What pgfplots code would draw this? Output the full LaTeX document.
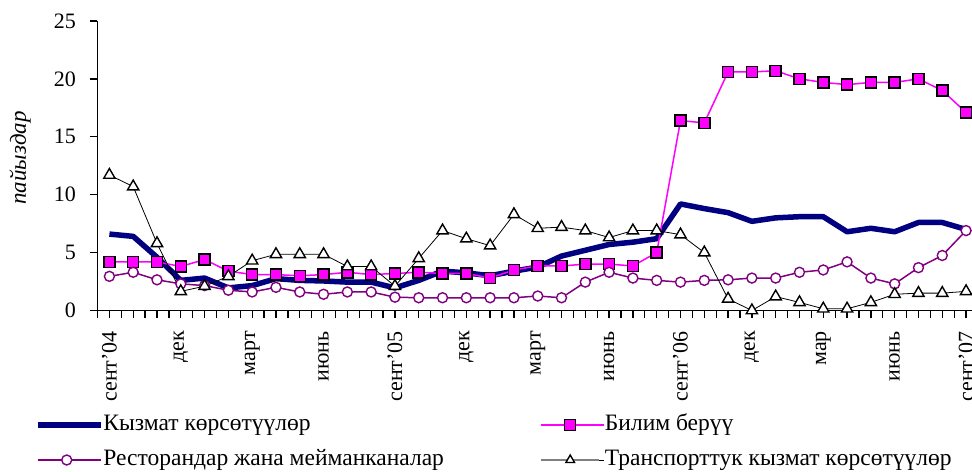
\documentclass[border=0pt]{standalone}
\usepackage{fontspec}
\setmainfont{Liberation Serif}
\usepackage{pgfplots}
\pgfplotsset{compat=1.18}
\definecolor{navyK}{HTML}{000080}
\definecolor{magB}{HTML}{FF00FF}
\definecolor{purR}{HTML}{800080}
\definecolor{grayT}{HTML}{808080}

\begin{document}
\fontsize{22pt}{26pt}\selectfont
\begin{tikzpicture}
\begin{axis}[
    scale only axis,
    width=874.5pt, height=289.5pt,
    xmin=-0.5, xmax=36.25,
    ymin=0, ymax=25,
    clip=false,
    axis x line=bottom, axis y line=left,
    axis line style={-, line width=1.4pt},
    tick align=outside,
    major tick length=7.5pt, minor tick length=7.5pt,
    tick style={line width=1.3pt, black},
    ytick={0,5,...,25},
    xtick={0,3,...,36},
    xticklabels={сент'04,дек,март,июнь,сент'05,дек,март,июнь,сент'06,дек,мар,июнь,сент'07},
    minor xtick={-0.5,0,...,36},
    /pgf/number format/assume math mode=true,
    tick label style={font=\fontsize{22pt}{26pt}\selectfont},
    xticklabel style={rotate=90, anchor=east, inner sep=0pt},
    xticklabel shift=13pt,
    yticklabel style={inner sep=0pt},
    yticklabel shift=14pt,
    ylabel={\itshape пайыздар},
    ylabel style={at={(axis description cs:-0.0886,0.527)}, anchor=center, font=\fontsize{23pt}{27pt}\selectfont},
    legend columns=2,
    legend cell align=left,
    legend style={draw=none, fill=none, inner sep=0pt, outer sep=0pt,
        at={(axis description cs:-0.0715,-0.456)}, anchor=west,
        row sep=14pt,
        nodes={inner sep=0pt, text height=16pt, text depth=5pt,
               font=\fontsize{23.5pt}{27pt}\selectfont}},
    legend image code/.code={
        \path (0pt,0pt) -- (63pt,0pt);
        \draw[mark repeat=2, mark phase=2, #1] plot coordinates {(0pt,0pt) (29pt,0pt) (58pt,0pt)};
    },
]

% Кызмат көрсөтүүлөр
\addplot[color=navyK, line width=5.5pt, line join=round, no markers] coordinates {
    (0,6.6) (1,6.4) (2,4.6) (3,2.6) (4,2.8) (5,1.95) (6,2.15) (7,2.75) (8,2.6)
    (9,2.55) (10,2.45) (11,2.45) (12,1.95) (13,2.6) (14,3.4) (15,3.25) (16,3.0)
    (17,3.4) (18,3.75) (19,4.7) (20,5.2) (21,5.7) (22,5.9) (23,6.2) (24,9.2)
    (25,8.8) (26,8.45) (27,7.7) (28,8.0) (29,8.1) (30,8.1) (31,6.8) (32,7.1)
    (33,6.8) (34,7.6) (35,7.6) (36,7.0)
};
\addlegendentry{\makebox[437pt][l]{Кызмат көрсөтүүлөр}}

% Билим берүү
\addplot[color=magB, line width=1.5pt, mark=square*, mark size=5.5pt,
    mark options={fill=magB, draw=black, line width=1.5pt}] coordinates {
    (0,4.2) (1,4.2) (2,4.2) (3,3.8) (4,4.4) (5,3.4) (6,3.1) (7,3.1) (8,3.0)
    (9,3.1) (10,3.3) (11,3.1) (12,3.2) (13,3.3) (14,3.2) (15,3.2) (16,2.8)
    (17,3.5) (18,3.85) (19,3.85) (20,4.0) (21,4.0) (22,3.85) (23,5.0) (24,16.4)
    (25,16.2) (26,20.6) (27,20.6) (28,20.7) (29,20.0) (30,19.7) (31,19.5) (32,19.7)
    (33,19.7) (34,20.0) (35,19.0) (36,17.1)
};
\addlegendentry{Билим берүү}

% Ресторандар жана мейманканалар
\addplot[color=purR, line width=1.5pt, mark=*, mark size=5pt,
    mark options={fill=white, draw=purR, line width=1.4pt}] coordinates {
    (0,2.95) (1,3.3) (2,2.65) (3,2.3) (4,2.15) (5,1.75) (6,1.6) (7,2.0) (8,1.6)
    (9,1.4) (10,1.6) (11,1.6) (12,1.15) (13,1.1) (14,1.1) (15,1.1) (16,1.1)
    (17,1.1) (18,1.25) (19,1.1) (20,2.45) (21,3.3) (22,2.8) (23,2.6) (24,2.45)
    (25,2.6) (26,2.65) (27,2.8) (28,2.8) (29,3.3) (30,3.5) (31,4.2) (32,2.8)
    (33,2.3) (34,3.7) (35,4.75) (36,6.9)
};
\addlegendentry{\makebox[437pt][l]{Ресторандар жана мейманканалар}}

% Транспорттук кызмат көрсөтүүлөр
\addplot[color=black, line width=0.8pt, mark=triangle*, mark size=6.5pt,
    mark options={fill=white, draw=black, line width=1.4pt},
    legend image code/.code={
        \path (0pt,0pt) -- (63pt,0pt);
        \draw[grayT, line width=1.5pt] (0pt,0pt) -- (58pt,0pt);
        \draw[black, fill=white, line width=1.4pt] plot[mark=triangle*, mark size=5pt] coordinates {(29pt,0pt)};
    }] coordinates {
    (0,11.7) (1,10.7) (2,5.8) (3,1.65) (4,2.1) (5,2.95) (6,4.3) (7,4.85) (8,4.85)
    (9,4.85) (10,3.8) (11,3.8) (12,2.1) (13,4.5) (14,6.9) (15,6.2) (16,5.6)
    (17,8.3) (18,7.1) (19,7.2) (20,6.9) (21,6.3) (22,6.9) (23,6.9) (24,6.55)
    (25,5.0) (26,1.0) (27,0.0) (28,1.2) (29,0.7) (30,0.15) (31,0.15) (32,0.7)
    (33,1.4) (34,1.5) (35,1.5) (36,1.65)
};
\addlegendentry{Транспорттук кызмат көрсөтүүлөр}

\coordinate (bl) at (rel axis cs:0,0);
\coordinate (tr) at (rel axis cs:1,1);
\end{axis}
\pgfresetboundingbox
\path[use as bounding box] ([xshift=-97.5pt,yshift=-161.5pt]bl) rectangle ([yshift=21pt]tr);
\end{tikzpicture}
\end{document}
